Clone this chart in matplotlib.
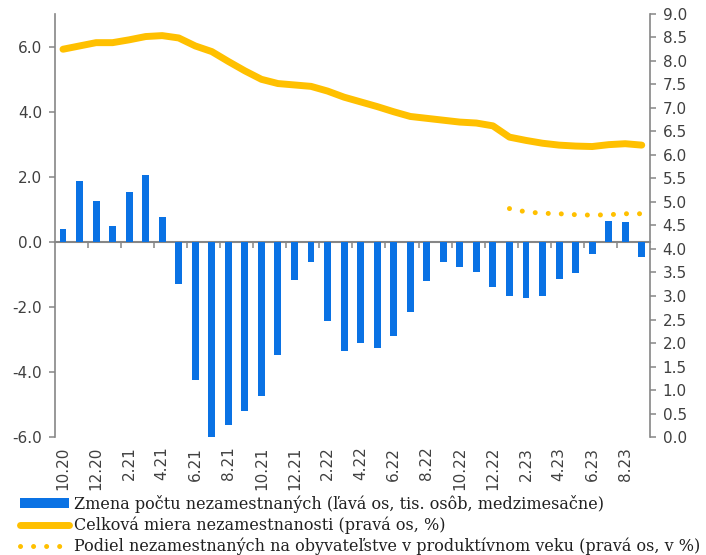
import numpy as np
import matplotlib
matplotlib.use("Agg")
import matplotlib.pyplot as plt

months = ["10.20", "11.20", "12.20", "1.21", "2.21", "3.21", "4.21", "5.21", "6.21", "7.21",
          "8.21", "9.21", "10.21", "11.21", "12.21", "1.22", "2.22", "3.22", "4.22", "5.22",
          "6.22", "7.22", "8.22", "9.22", "10.22", "11.22", "12.22", "1.23", "2.23", "3.23",
          "4.23", "5.23", "6.23", "7.23", "8.23", "9.23"]

change_unemployed = [0.38, 1.88, 1.25, 0.48, 1.54, 2.05, 0.75, -1.30, -4.24, -6.0,
                     -5.64, -5.20, -4.75, -3.47, -1.16, -0.62, -2.42, -3.35, -3.12, -3.28,
                     -2.89, -2.15, -1.21, -0.62, -0.78, -0.93, -1.39, -1.67, -1.72, -1.67,
                     -1.13, -0.96, -0.37, 0.65, 0.62, -0.47]

total_rate = [8.25, 8.32, 8.39, 8.39, 8.45, 8.52, 8.54, 8.49, 8.32, 8.20,
              7.99, 7.79, 7.61, 7.52, 7.49, 7.46, 7.36, 7.23, 7.13, 7.03,
              6.92, 6.82, 6.78, 6.74, 6.70, 6.68, 6.62, 6.38, 6.31, 6.25,
              6.21, 6.19, 6.18, 6.22, 6.24, 6.21]

share_working_age = [np.nan] * 27 + [4.86, 4.79, 4.76, 4.75, 4.73, 4.72, 4.73, 4.75, 4.75]

label_bar = "Zmena počtu nezamestnaných (ľavá os, tis. osôb, medzimesačne)"
label_rate = "Celková miera nezamestnanosti (pravá os, %)"
label_share = "Podiel nezamestnaných na obyvateľstve v produktívnom veku (pravá os, v %)"

BLUE = "#0A72E4"
GOLD = "#FFC000"
SPINE = "#868686"
TXT = "#404040"

fig = plt.figure(figsize=(7.06, 5.55), dpi=100)
ax = fig.add_axes([0.0775, 0.2126, 0.8432, 0.7622])
x = np.arange(len(months))

bars = ax.bar(x, change_unemployed, width=0.42, color=BLUE, zorder=3, label=label_bar)
ax.set_xlim(-0.5, len(months) - 0.5)
ax.set_ylim(-6, 7)
ax.set_yticks(np.arange(-6, 7, 2))
ax.set_yticklabels([f"{v:.1f}" for v in np.arange(-6, 7, 2)])

for s in ["top", "right", "bottom"]:
    ax.spines[s].set_visible(False)
ax.spines["left"].set_color(SPINE)
ax.spines["left"].set_linewidth(1.2)
ax.tick_params(axis="y", direction="out", length=4, width=1.1, color=SPINE,
               labelsize=11, labelcolor=TXT, pad=5)

ax.set_xticks(x[::2])
ax.set_xticklabels(months[::2], rotation=90)
ax.tick_params(axis="x", length=0, pad=7, labelsize=11, labelcolor=TXT)

# zero axis line with tick marks between categories
zero_frac = 6 / 13
sec = ax.secondary_xaxis(zero_frac)
sec.spines["bottom"].set_color(SPINE)
sec.spines["bottom"].set_linewidth(1.5)
sec.set_xticks(np.arange(1.5, len(months) - 1, 2))
sec.tick_params(axis="x", direction="out", length=4, width=1.1, color=SPINE,
                labelbottom=False)

ax2 = ax.twinx()
ax2.set_ylim(0, 9)
ax2.set_yticks(np.arange(0, 9.01, 0.5))
ax2.set_yticklabels([f"{v:.1f}" for v in np.arange(0, 9.01, 0.5)])
for s in ["top", "left", "bottom"]:
    ax2.spines[s].set_visible(False)
ax2.spines["right"].set_color(SPINE)
ax2.spines["right"].set_linewidth(1.2)
ax2.tick_params(axis="y", direction="out", length=4, width=1.1, color=SPINE,
                labelsize=11, labelcolor=TXT, pad=5)

l1, = ax2.plot(x, total_rate, color=GOLD, lw=5, solid_capstyle="round",
               solid_joinstyle="round", label=label_rate, zorder=4)
l2, = ax2.plot(x, share_working_age, color=GOLD, lw=3.6, linestyle=(0, (0.01, 2.6)),
               dash_capstyle="round", label=label_share, zorder=4)

leg = fig.legend([bars, l1, l2], [label_bar, label_rate, label_share],
                 loc="upper left", bbox_to_anchor=(0.028, 0.1084), frameon=False,
                 prop={"family": "DejaVu Serif", "size": 11.5},
                 handlelength=3.1, handleheight=0.6, handletextpad=0.3,
                 labelspacing=0.22, borderpad=0, borderaxespad=0)
for t in leg.get_texts():
    t.set_color("#202020")

fig.savefig("out.png", dpi=100)
